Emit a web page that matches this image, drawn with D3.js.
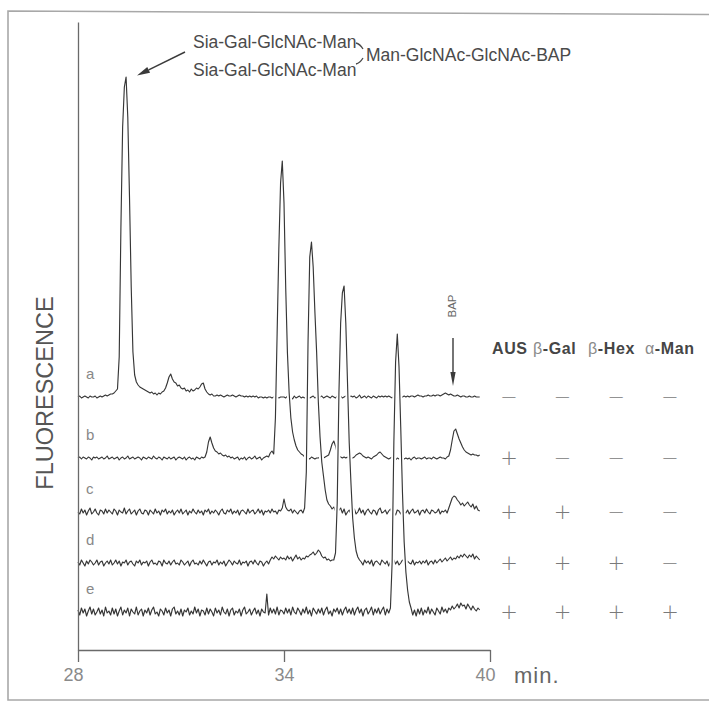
<!DOCTYPE html>
<html>
<head>
<meta charset="utf-8">
<script src="https://cdn.jsdelivr.net/npm/d3@7"></script>
<style>
  body { margin: 0; background: #fff; }
  svg { display: block; font-family: "Liberation Sans", Arial, Helvetica, sans-serif; }
</style>
</head>
<body>
<div id="chart"></div>
<script>

// set the dimensions of the figure
const WIDTH = 709, HEIGHT = 702;
const PLOT = {left: 78, right: 490, top: 22, bottom: 650};

// chromatograms: one value every 0.05 min starting at 28 min
const T_START = 28, T_STEP = 0.05;
const xTicks = [28, 34, 40];
const traceNames = ["a", "b", "c", "d", "e"];
// baseline of each trace above the time axis (fluorescence units)
const traceOffsets = [253, 192, 138, 87, 38];

const traceA = [
  0,1,-1,0,1,0,-1,1,0,0,1,-1,0,1,0,1,2,1,2,3,
  3,4,6,8,40,170,270,310,320,280,200,110,45,22,15,12,10,9,8,7,
  6,5,4,5,3,4,2,4,3,5,6,9,14,20,23,18,15,14,11,12,
  9,8,9,6,7,5,8,6,7,9,8,10,13,14,8,5,3,2,3,1,
  1,2,1,2,1,0,1,2,1,1,2,1,0,1,2,1,1,0,1,0,
  1,0,1,0,1,-1,0,0,-1,0,-1,0,0,-1,0,1,0,-1,0,0,
  0,-1,1,-1,0,-2,1,-1,0,1,-1,0,-1,1,0,-1,0,1,-1,0,
  -1,0,1,-1,0,1,0,-1,1,0,-1,1,0,1,-1,0,1,-1,0,1,
  0,1,-1,0,2,-1,0,1,-1,1,0,-1,1,0,-1,1,0,1,0,1,
  0,1,0,-1,1,0,0,1,-1,0,1,0,1,0,1,1,0,1,2,1,
  1,0,1,1,2,1,1,2,1,2,2,1,2,3,4,3,2,3,2,1,
  1,2,1,0,1,1,0,0,1,0,0,1,0,0,0
];

const traceB = [
  0,1,-1,1,0,-1,1,0,-2,1,0,1,-1,0,1,-1,0,2,-1,0,
  1,-1,0,1,-2,0,1,-1,0,2,-1,0,1,-1,0,1,0,-2,1,0,
  -1,1,0,-1,2,0,-1,1,0,-2,1,0,-1,1,-1,0,1,-2,0,1,
  0,-1,1,-2,0,1,-1,0,-2,1,0,-1,1,0,1,6,16,21,15,10,
  7,6,4,5,3,2,3,1,2,0,1,-1,0,1,-2,0,-1,1,-2,0,
  1,-1,0,2,-1,0,1,-2,0,1,2,1,5,7,4,40,125,210,275,297,
  255,170,105,65,40,26,18,12,8,6,4,3,1,2,0,-1,1,0,-1,0,
  0,1,-1,0,1,2,3,8,14,17,12,5,2,1,0,1,0,1,-1,0,
  0,1,3,4,5,4,2,1,0,1,0,-1,1,2,3,5,6,4,2,1,
  0,-1,0,1,-1,-2,0,-1,0,1,-1,0,-1,0,-2,0,1,-1,0,0,
  -1,0,1,-1,0,0,-1,1,0,-1,0,1,0,0,-1,1,2,8,18,27,
  29,24,19,15,11,8,6,5,4,3,4,3,3,2,3
];

const traceC = [
  0,-2,3,-1,2,-3,1,4,-2,0,3,-1,-3,2,1,-2,3,-1,2,0,
  -2,3,1,-3,2,0,-1,4,-2,1,3,-2,0,2,-3,1,3,-1,-2,2,
  1,-3,2,0,-2,3,-1,1,-3,2,0,3,-2,1,-1,2,-3,0,2,-1,
  3,-2,0,2,-3,1,-1,3,0,-2,2,-1,1,-3,2,0,3,-2,1,-1,
  2,0,-3,1,3,-1,-2,2,0,3,-2,1,-1,2,-3,1,2,0,-2,3,
  -1,1,2,-2,0,3,-1,2,-3,1,0,2,-1,3,0,1,-2,2,1,4,
  13,5,2,1,3,-1,2,0,-2,1,2,-1,4,40,170,255,270,245,200,160,
  110,75,50,36,22,12,8,6,3,5,1,-2,2,4,-1,3,-3,0,2,-2,
  1,3,-2,0,4,-1,2,-3,1,3,0,-2,2,1,-3,2,4,-1,0,2,
  -2,1,3,-1,0,-3,2,1,-2,3,0,-1,2,-2,1,3,-1,0,2,-3,
  1,2,-1,3,0,-2,2,1,-1,0,3,-2,1,0,2,-1,4,9,14,16,
  15,12,10,7,9,6,8,10,7,5,8,3,6,2,1
];

const traceD = [
  1,-2,3,0,-3,2,-1,3,1,-2,0,3,-2,1,2,-3,0,2,-1,3,
  -2,0,3,-1,2,-3,1,0,3,-2,1,2,-1,-3,2,0,3,-2,1,0,
  2,-3,1,3,-1,0,-2,2,1,-3,3,0,-1,2,-2,1,3,-1,0,-2,
  3,1,-2,0,2,-3,1,3,-1,0,-2,2,-1,3,0,-3,1,2,-2,1,
  0,3,-2,1,-1,2,-3,0,3,1,-2,2,0,-1,3,-2,1,0,2,-3,
  1,2,-1,3,0,-2,2,1,-3,0,2,-1,3,6,4,7,5,3,6,4,
  5,3,7,4,6,2,5,8,4,6,3,5,4,7,6,8,9,11,8,10,
  13,11,7,5,6,3,4,2,3,3,10,60,170,240,270,277,240,180,120,80,
  45,25,12,6,3,1,-2,3,0,2,-1,3,-3,1,2,0,-2,3,1,-1,
  2,-3,1,0,3,-1,2,-2,0,3,1,-2,2,0,-1,3,-2,1,0,2,
  -1,2,0,3,-2,1,2,-1,3,0,2,4,1,3,5,2,4,6,3,5,
  4,7,5,8,6,9,7,5,8,6,9,4,7,5,3
];

const traceE = [
  2,-3,4,-1,3,-4,1,5,-2,3,-3,0,4,-2,2,-4,5,-1,1,-3,
  4,-2,3,-4,1,5,-3,2,-1,4,-4,3,0,-2,5,-3,1,3,-4,2,
  -1,4,-3,2,5,-2,0,-4,3,1,-3,4,-1,2,-4,3,5,-2,1,-3,
  3,-4,2,0,4,-3,1,-2,5,-1,3,-4,2,1,-3,4,-2,3,0,-4,
  4,-1,2,-3,5,0,-2,3,-4,2,4,-3,1,-1,3,-4,2,5,-2,0,
  3,-3,1,4,-2,2,-4,3,0,-1,18,-3,4,-1,3,-2,5,-3,2,1,
  -2,4,-1,3,-3,5,0,-2,4,1,-3,3,-1,5,-2,2,-4,4,1,-2,
  3,-1,4,-3,2,5,-2,1,-4,3,0,4,-2,3,-3,2,5,-1,3,-2,
  4,-3,2,5,-1,3,-4,2,4,-2,1,5,-3,3,-1,4,-2,2,5,-3,
  3,-1,4,50,170,250,278,245,185,120,70,40,22,10,4,-3,2,-4,3,-2,
  4,-3,2,-1,5,-2,3,0,-3,4,1,-2,5,0,3,-1,4,2,6,3,
  5,8,4,9,6,7,3,8,5,2,6,3,1,4,2
];

const traces = [traceA, traceB, traceC, traceD, traceE];

// enzyme treatments of each run
const enzymes = ["AUS", "β-Gal", "β-Hex", "α-Man"];
const treatment = [
  ["−", "−", "−", "−"],
  ["+", "−", "−", "−"],
  ["+", "+", "−", "−"],
  ["+", "+", "+", "−"],
  ["+", "+", "+", "+"]
];

const structureTop = "Sia-Gal-GlcNAc-Man";
const structureBottom = "Sia-Gal-GlcNAc-Man";
const structureCore = "Man-GlcNAc-GlcNAc-BAP";


const svg = d3.select("#chart")
  .append("svg")
    .attr("width", WIDTH)
    .attr("height", HEIGHT);

// scanned page frame
svg.append("path")
  .attr("d", "M712,14.5 L8,11 L8,700 L712,700")
  .attr("fill", "none")
  .attr("stroke", "#a8a8a8")
  .attr("stroke-width", 1.6);

const x = d3.scaleLinear()
    .domain([28, 40])
    .range([PLOT.left, PLOT.right]);

const y = d3.scaleLinear()
    .domain([0, PLOT.bottom - PLOT.top])
    .range([PLOT.bottom, PLOT.top]);

const line = d3.line()
    .x(d => x(d[0]))
    .y(d => y(d[1]));

// traces, upper first; each later one knocks a gap in the ones it crosses
traces.forEach((vals, k) => {
  const pts = vals.map((v, i) => [T_START + i * T_STEP, traceOffsets[k] + v]);

  svg.append("path")
    .datum(pts)
    .attr("d", line)
    .attr("fill", "none")
    .attr("stroke", "#fff")
    .attr("stroke-width", 5)
    .attr("stroke-linejoin", "round");

  svg.append("path")
    .datum(pts)
    .attr("class", "trace")
    .attr("d", line)
    .attr("fill", "none")
    .attr("stroke", "#363636")
    .attr("stroke-width", 1.15)
    .attr("stroke-linejoin", "round");

  svg.append("text")
    .attr("x", 86)
    .attr("y", y(traceOffsets[k]) - 18)
    .attr("font-size", 15)
    .attr("fill", "#888")
    .text(traceNames[k]);
});

// axes
const xAxis = svg.append("g")
  .attr("transform", `translate(0,${PLOT.bottom})`)
  .call(d3.axisBottom(x).tickValues(xTicks).tickSize(12).tickSizeOuter(0).tickPadding(6));

xAxis.selectAll("text")
  .attr("font-size", 18)
  .attr("font-family", "Liberation Sans, Arial, sans-serif")
  .attr("fill", "#8a8a8a")
  .attr("dx", d => (d === 34 ? 0 : -5));

const yAxis = svg.append("g")
  .attr("transform", `translate(${PLOT.left},0)`)
  .call(d3.axisLeft(y).tickValues([]).tickSizeOuter(0));

svg.selectAll(".domain, .tick line")
  .attr("stroke", "#6a6a6a")
  .attr("stroke-width", 1.3);

svg.append("text")
  .attr("x", 514)
  .attr("y", 683)
  .attr("font-size", 22)
  .attr("letter-spacing", 1)
  .attr("fill", "#666")
  .text("min.");

svg.append("text")
  .attr("transform", "translate(53,393) rotate(-90)")
  .attr("text-anchor", "middle")
  .attr("font-size", 23.5)
  .attr("fill", "#555")
  .text("FLUORESCENCE");

// structure annotation with arrow to the first peak
const annot = svg.append("g")
  .attr("font-size", 17.5)
  .attr("fill", "#4a4a4a");

annot.append("text").attr("x", 193).attr("y", 47.5).text(structureTop);
annot.append("text").attr("x", 193).attr("y", 76).text(structureBottom);
annot.append("text").attr("x", 366).attr("y", 61).text(structureCore);

svg.append("path")
  .attr("d", "M356,43 Q360,44 363,49 M356,64 Q360,63 363,58")
  .attr("fill", "none")
  .attr("stroke", "#4a4a4a")
  .attr("stroke-width", 1.3);

function arrow(x1, y1, x2, y2, len, half) {
  const a = Math.atan2(y2 - y1, x2 - x1);
  const bx = x2 - len * Math.cos(a), by = y2 - len * Math.sin(a);
  const px = -Math.sin(a) * half, py = Math.cos(a) * half;
  svg.append("line")
    .attr("x1", x1).attr("y1", y1).attr("x2", bx).attr("y2", by)
    .attr("stroke", "#3a3a3a")
    .attr("stroke-width", 1.4);
  svg.append("path")
    .attr("d", `M${x2},${y2} L${bx + px},${by + py} L${bx - px},${by - py} Z`)
    .attr("fill", "#3a3a3a");
}

arrow(185, 52, 137, 75.5, 13, 3.2);

// BAP marker
svg.append("text")
  .attr("transform", "translate(456,306) rotate(-90)")
  .attr("text-anchor", "middle")
  .attr("font-size", 11.5)
  .attr("fill", "#666")
  .text("BAP");

arrow(453, 338, 453, 386, 14, 2.6);

// enzyme table
const col = d3.scalePoint()
    .domain(enzymes)
    .range([509, 670]);

const headerX = [492, 533, 588, 645];

const header = svg.append("g")
  .attr("font-size", 16)
  .attr("font-weight", "bold")
  .attr("letter-spacing", 0.6)
  .attr("fill", "#454545");

enzymes.forEach((e, j) => {
  const t = header.append("text")
    .attr("x", headerX[j])
    .attr("y", 354);
  if (e[0] === "β" || e[0] === "α") {
    t.append("tspan").attr("font-weight", "normal").attr("fill", "#8a8a8a").text(e[0]);
    t.append("tspan").text(e.slice(1));
  } else {
    t.text(e);
  }
});

treatment.forEach((row, k) => {
  svg.selectAll(null)
    .data(row)
    .join("text")
      .attr("x", (d, j) => col(enzymes[j]))
      .attr("y", y(traceOffsets[k]))
      .attr("dy", "0.33em")
      .attr("text-anchor", "middle")
      .attr("font-family", "DejaVu Sans, sans-serif")
      .attr("font-weight", 200)
      .attr("font-size", 21)
      .attr("fill", "#7a7a7a")
      .text(d => d);
});

</script>
</body>
</html>
